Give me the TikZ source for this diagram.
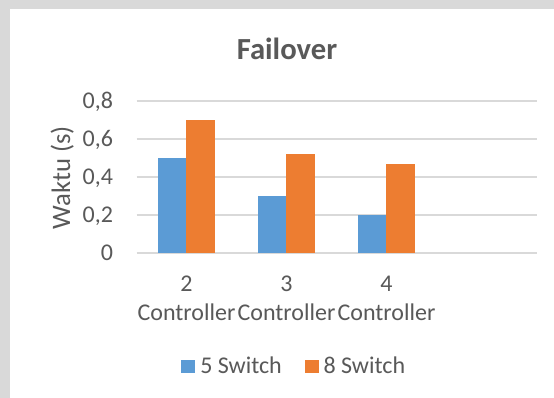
\documentclass[tikz,border=0pt]{standalone}
\usepackage{fontspec}
\setmainfont{Carlito}
\usetikzlibrary{positioning}

\definecolor{barblue}{HTML}{5B9BD5}
\definecolor{barorange}{HTML}{ED7D31}
\definecolor{textgray}{HTML}{595959}
\definecolor{gridgray}{HTML}{D9D9D9}
\definecolor{backgray}{HTML}{D9D9D9}

\begin{document}
\begin{tikzpicture}[x=0.75pt,y=-0.75pt,
  label text/.style={text=textgray,inner sep=0pt,font=\fontsize{18}{21}\selectfont},
  ticklabel/.style={label text,anchor=base east},
  catlabel/.style={label text,anchor=base},
  legendkey/.style={minimum width=10.5pt,minimum height=9.5pt,inner sep=0pt,anchor=south west}]
\useasboundingbox (0,0) rectangle (554,398);

% Background
\fill[backgray] (0,0) rectangle (554,398);
\fill[white] (10,9.5) rectangle (554,398);

% Title
\node[text=textgray,inner sep=0pt,anchor=base,font=\bfseries\fontsize{23}{28}\selectfont] (title) at (287,60) {Failover};

% Grid lines and tick labels
\foreach \v/\lab in {0/0,1/{0,2},2/{0,4},3/{0,6},4/{0,8}}
{
\draw[gridgray,line width=1.1pt] (136.7,253-38*\v) -- (537,253-38*\v);
\node[ticklabel] (tick\v) at (113.3,260.5-38*\v) {\lab};
}

% Bars
\foreach \i/\a/\b in {0/0.5/0.7,1/0.3/0.52,2/0.2/0.47}
{
\fill[barblue] (157.7+100*\i,253) rectangle (186.3+100*\i,253-190*\a);
\fill[barorange] (186.3+100*\i,253) rectangle (215+100*\i,253-190*\b);
}

% Category labels
\foreach \i/\n in {0/2,1/3,2/4}
{
\node[catlabel] (num\i) at (186.5+100*\i,291.7) {\n};
\node[catlabel] (ctrl\i) at (186.5+100*\i,321) {Controller};
}

% Axis title
\node[text=textgray,inner sep=0pt,anchor=base,rotate=90,font=\fontsize{20}{24}\selectfont] (ytitle) at (70,177.5) {Waktu (s)};

% Legend
\node[legendkey,fill=barblue] (key5) at (181,373.3) {};
\node[label text,anchor=base west] (leg5) at (200,373.7) {5 Switch};
\node[legendkey,fill=barorange] (key8) at (304.3,373.3) {};
\node[label text,anchor=base west] (leg8) at (323.3,373.7) {8 Switch};

\end{tikzpicture}
\end{document}
